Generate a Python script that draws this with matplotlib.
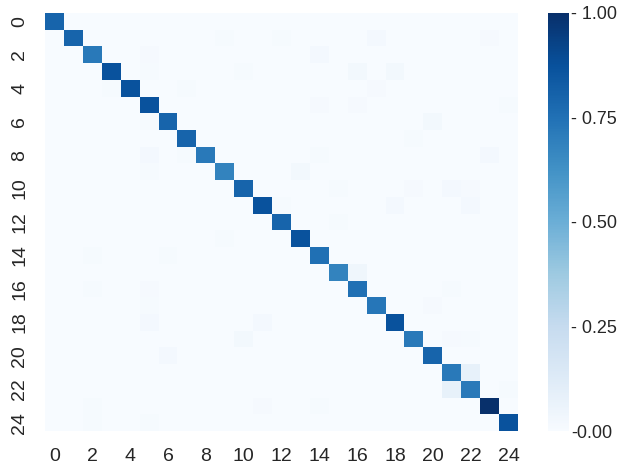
import numpy as np
import matplotlib
matplotlib.use("Agg")
import matplotlib.pyplot as plt

plt.rcParams['font.family'] = ['Liberation Sans', 'DejaVu Sans']

n_classes = 25
diag_values = [0.80, 0.80, 0.72, 0.87, 0.87, 0.87, 0.80, 0.80, 0.72, 0.68,
               0.80, 0.87, 0.80, 0.87, 0.75, 0.68, 0.75, 0.73, 0.87, 0.72,
               0.80, 0.72, 0.72, 1.00, 0.87]

# (row, col, value) for visible off-diagonal cells
off_rows = [1, 1, 1, 1, 2, 2, 3, 3, 3, 3, 4, 4, 4, 5, 5, 5, 6, 6, 7, 8, 8, 8, 8,
            9, 9, 10, 10, 10, 10, 11, 11, 11, 12, 13, 14, 14, 15, 16, 16, 16,
            17, 17, 18, 18, 19, 19, 19, 20, 21, 22, 22, 23, 23, 23, 24, 24]
off_cols = [17, 23, 9, 12, 5, 14, 10, 16, 18, 5, 17, 7, 3, 14, 16, 24, 5, 20, 19, 5, 23, 14, 7,
            13, 5, 19, 21, 22, 15, 18, 22, 12, 15, 9, 2, 6, 16, 5, 21, 2,
            20, 5, 5, 11, 10, 21, 22, 6, 22, 21, 24, 2, 11, 14, 2, 5]
off_vals = [0.02, 0.015, 0.01, 0.008, 0.015, 0.02, 0.01, 0.025, 0.025, 0.01, 0.015, 0.01, 0.01,
            0.015, 0.015, 0.01, 0.01, 0.025, 0.01, 0.02, 0.02, 0.01, 0.01,
            0.025, 0.01, 0.015, 0.02, 0.015, 0.01, 0.02, 0.02, 0.01, 0.01, 0.01,
            0.01, 0.01, 0.04, 0.015, 0.01, 0.008, 0.015, 0.01, 0.02, 0.02,
            0.025, 0.015, 0.01, 0.02, 0.08, 0.08, 0.01, 0.01, 0.015, 0.01, 0.01, 0.01]

tick_positions = list(range(0, 25, 2))
tick_labels = [str(t) for t in tick_positions]
cbar_ticks = [0.0, 0.25, 0.5, 0.75, 1.0]
cbar_labels = ['-0.00', '- 0.25', '- 0.50', '- 0.75', '- 1.00']

M = np.zeros((n_classes, n_classes))
for i, v in enumerate(diag_values):
    M[i, i] = v
for r, c, v in zip(off_rows, off_cols, off_vals):
    M[r, c] = v

fig = plt.figure(figsize=(6.2, 4.68), dpi=100)
ax = fig.add_axes([45/620, 37/468, 473/620, 418/468])
cax = fig.add_axes([548/620, 37/468, 20.5/620, 418/468])

mesh = ax.pcolormesh(np.arange(n_classes + 1), np.arange(n_classes + 1), M,
                     cmap='Blues', vmin=0, vmax=1)
ax.set_xlim(0, n_classes)
ax.set_ylim(n_classes, 0)
for s in ax.spines.values():
    s.set_visible(False)
ax.set_xticks([t + 0.5 for t in tick_positions])
ax.set_xticklabels(tick_labels)
ax.set_yticks([t + 0.5 for t in tick_positions])
ax.set_yticklabels(tick_labels, rotation=90, va='center')
ax.tick_params(axis='both', length=0, labelsize=14, colors='#262626')
ax.tick_params(axis='x', pad=12)
ax.tick_params(axis='y', pad=12)

cb = fig.colorbar(mesh, cax=cax)
cb.outline.set_visible(False)
cb.set_ticks(cbar_ticks)
cb.set_ticklabels(cbar_labels)
cax.tick_params(length=0, labelsize=13, colors='#262626', pad=2)

fig.savefig('out.png', dpi=100)
